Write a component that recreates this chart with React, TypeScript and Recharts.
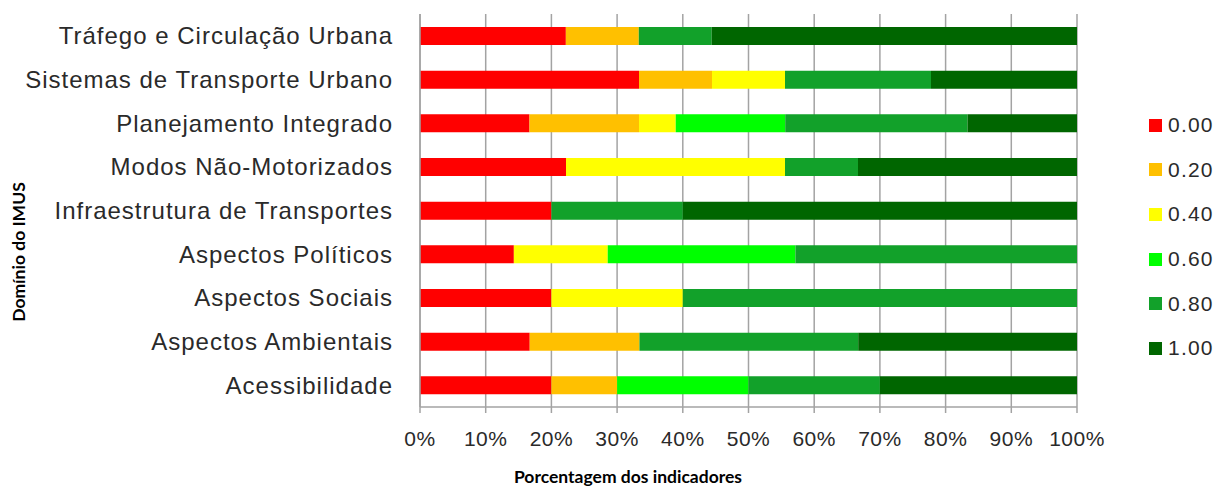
import React from 'react';
import { BarChart, Bar, XAxis, YAxis, CartesianGrid } from 'recharts';

// Domínios do IMUS, de cima para baixo
const domains = [
  'Tráfego e Circulação Urbana',
  'Sistemas de Transporte Urbano',
  'Planejamento Integrado',
  'Modos Não-Motorizados',
  'Infraestrutura de Transportes',
  'Aspectos Políticos',
  'Aspectos Sociais',
  'Aspectos Ambientais',
  'Acessibilidade',
];

// % de indicadores por score, um array por série
const score000 = [22.2, 33.3, 16.7, 22.2, 20, 14.3, 20, 16.7, 20];
const score020 = [11.1, 11.1, 16.7, 0, 0, 0, 0, 16.7, 10];
const score040 = [0, 11.1, 5.6, 33.3, 0, 14.3, 20, 0, 0];
const score060 = [0, 0, 16.7, 0, 0, 28.6, 0, 0, 20];
const score080 = [11.1, 22.2, 27.8, 11.1, 20, 42.9, 60, 33.3, 20];
const score100 = [55.6, 22.2, 16.7, 33.3, 60, 0, 0, 33.3, 30];

const xTicks = [0, 0.1, 0.2, 0.3, 0.4, 0.5, 0.6, 0.7, 0.8, 0.9, 1];
const boundaryTicks = [0, 1, 2, 3, 4, 5, 6, 7, 8, 9];

const series = [
  { key: 's000', name: '0.00', values: score000, color: '#FF0000' },
  { key: 's020', name: '0.20', values: score020, color: '#FFC000' },
  { key: 's040', name: '0.40', values: score040, color: '#FFFF00' },
  { key: 's060', name: '0.60', values: score060, color: '#00FF00' },
  { key: 's080', name: '0.80', values: score080, color: '#12A12A' },
  { key: 's100', name: '1.00', values: score100, color: '#006600' },
];

const data = domains.map((d, i) => {
  const row: any = { domain: d };
  series.forEach(s => { row[s.key] = s.values[i]; });
  return row;
});

const gridColor = '#a3a3a3';
const labelFont = '"Liberation Sans", Arial, sans-serif';
const titleFont = 'Lato, "Open Sans", sans-serif';

const CategoryTick = (props: any) => {
  const { x, y, payload } = props;
  return (
    <text x={x} y={y} dy="0.36em" textAnchor="end" fill="#2a2a2a"
      style={{ fontFamily: labelFont, fontSize: 24, letterSpacing: 1 }}>
      {payload.value}
    </text>
  );
};

export default function App() {
  return (
    <div style={{ position: 'absolute', left: 0, top: 0, width: 1222, height: 488, background: '#fff' }}>
      <BarChart
        width={1222}
        height={488}
        data={data}
        layout="vertical"
        stackOffset="expand"
        margin={{ top: 14, right: 145, bottom: 0, left: 0 }}
      >
        <CartesianGrid horizontal={false} stroke={gridColor} strokeWidth={1.5} />
        <XAxis
          type="number"
          domain={[0, 1]}
          ticks={xTicks}
          tickFormatter={(v: number) => `${Math.round(v * 100)}%`}
          height={81}
          tickSize={6}
          tickMargin={18}
          axisLine={{ stroke: gridColor, strokeWidth: 1.5 }}
          tickLine={{ stroke: gridColor, strokeWidth: 1.5 }}
          tick={{ fill: '#2a2a2a', fontSize: 21, fontFamily: labelFont, letterSpacing: 0.5 }}
          interval={0}
        />
        <YAxis
          yAxisId="cat"
          type="category"
          dataKey="domain"
          width={420}
          tickLine={false}
          tickMargin={21}
          axisLine={{ stroke: gridColor, strokeWidth: 1.5 }}
          tick={<CategoryTick />}
          interval={0}
        />
        <YAxis
          yAxisId="bounds"
          type="number"
          domain={[0, 9]}
          ticks={boundaryTicks}
          width={0}
          tick={false}
          tickSize={6}
          axisLine={false}
          tickLine={{ stroke: gridColor, strokeWidth: 1.5 }}
          interval={0}
        />
        {series.map(s => (
          <Bar
            key={s.key}
            yAxisId="cat"
            dataKey={s.key}
            name={s.name}
            stackId="a"
            fill={s.color}
            barSize={18}
            isAnimationActive={false}
          />
        ))}
      </BarChart>

      {/* legenda */}
      <div style={{ position: 'absolute', left: 1149, top: 103 }}>
        {series.map(s => (
          <div key={s.key} style={{ display: 'flex', alignItems: 'center', height: 44.6 }}>
            <div style={{ width: 13, height: 13, background: s.color, marginRight: 6 }} />
            <span style={{ fontFamily: labelFont, fontSize: 21, letterSpacing: 1.2, color: '#2a2a2a' }}>{s.name}</span>
          </div>
        ))}
      </div>

      {/* títulos dos eixos */}
      <div style={{
        position: 'absolute', left: 500, top: 466, width: 256, textAlign: 'center',
        fontFamily: titleFont, fontWeight: 700, fontSize: 17.5, color: '#000', whiteSpace: 'nowrap',
      }}>
        Porcentagem dos indicadores
      </div>
      <div style={{
        position: 'absolute', left: 18, top: 252, width: 200, textAlign: 'center',
        transform: 'translate(-50%, -50%) rotate(-90deg)',
        fontFamily: titleFont, fontWeight: 700, fontSize: 17.5, color: '#000', whiteSpace: 'nowrap',
      }}>
        Domínio do IMUS
      </div>
    </div>
  );
}
